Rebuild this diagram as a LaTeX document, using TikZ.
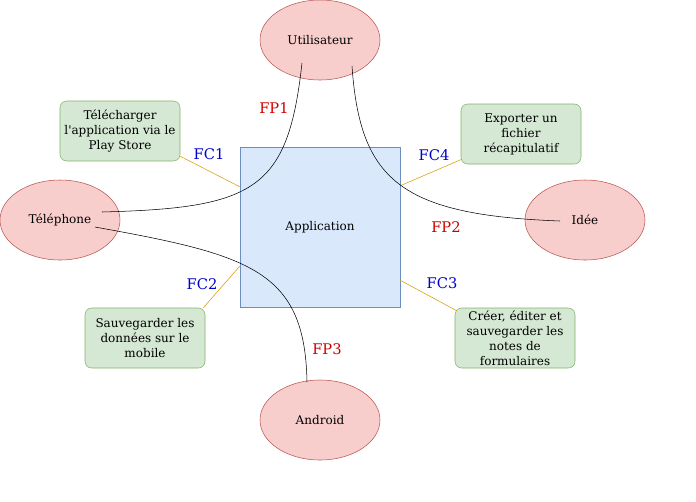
\documentclass[tikz,border=0pt]{standalone}
\usepackage{fontspec}
\setmainfont{DejaVu Serif}
\usetikzlibrary{shapes.geometric}
\usetikzlibrary{calc,positioning}
\definecolor{acteurfill}{HTML}{F8CECC}
\definecolor{acteurdraw}{HTML}{B85450}
\definecolor{fonctfill}{HTML}{D5E8D4}
\definecolor{fonctdraw}{HTML}{82B366}
\definecolor{appfill}{HTML}{DAE8FC}
\definecolor{appdraw}{HTML}{6C8EBF}
\definecolor{liencolor}{HTML}{D79B00}
\definecolor{fccolor}{HTML}{0000CC}
\definecolor{fpcolor}{HTML}{CC0000}

\begin{document}
\begin{tikzpicture}[x=0.75pt,y=-0.75pt, font=\fontsize{9}{11.25}\selectfont,
	acteur/.style={ellipse,draw=acteurdraw,fill=acteurfill,minimum width=90pt,
		minimum height=60pt,inner sep=0pt},
	fonct/.style={rectangle,rounded corners=5pt,draw=fonctdraw,fill=fonctfill,
		minimum width=90pt,minimum height=45pt,align=center,inner sep=0pt},
	lien/.style={draw=liencolor,line width=0.4pt},
	fc/.style={text=fccolor,font=\fontsize{11}{13}\selectfont},
	fp/.style={text=fpcolor,font=\fontsize{11}{13}\selectfont}]
	\useasboundingbox (0,0) rectangle (696,501);
	\node[draw=appdraw,fill=appfill,minimum width=120pt,minimum height=120pt,inner sep=0pt] (app) at (320,227) {Application};
	\node[acteur] (util) at (320,40) {Utilisateur};
	\node[acteur] (tel) at (60,220) {Téléphone};
	\node[acteur] (idee) at (585,220) {Idée};
	\node[acteur] (andr) at (320,420) {Android};
	\node[fonct] (telech) at (120,131) {Télécharger\\l\textquotesingle application via le\\Play Store};
	\node[fonct] (export) at (521,134) {Exporter un\\fichier\\récapitulatif};
	\node[fonct] (sauve) at (145,338) {Sauvegarder les\\données sur le\\mobile};
	\node[fonct] (creer) at (515,338) {Créer, éditer et\\sauvegarder les\\notes de\\formulaires};
	\draw[lien] ([shift={(0,-5)}]telech.south east) to ([shift={(0,40)}]app.north west);
	\draw[lien] ([shift={(0,-41)}]app.south west) to ([shift={(-2,0)}]sauve.north east);
	\draw[lien] ([shift={(0,-27)}]app.south east) to ([shift={(2,3)}]creer.north west);
	\draw[lien] ([shift={(0,39)}]app.north east) to ([shift={(1,-5)}]export.south west);
	\node[fc] (fc1) at (209,154) {FC1};
	\node[fc] (fc2) at (202,284) {FC2};
	\node[fc] (fc3) at (442,283) {FC3};
	\node[fc] (fc4) at (434,155) {FC4};
	\draw ([shift={(-18,23)}]util.center) .. controls (288,190) and (255,208) .. ([shift={(42,-8)}]tel.center);
	\draw ([shift={(32,26)}]util.center) .. controls (360,180) and (400,215) .. ([shift={(-25,1)}]idee.center);
	\draw ([shift={(35,7)}]tel.center) .. controls (250,255) and (305,270) .. ([shift={(-13,-38)}]andr.center);
	\node[fp] (fp1) at (274,108) {FP1};
	\node[fp] (fp2) at (446,227) {FP2};
	\node[fp] (fp3) at (327,349) {FP3};
\end{tikzpicture}
\end{document}
